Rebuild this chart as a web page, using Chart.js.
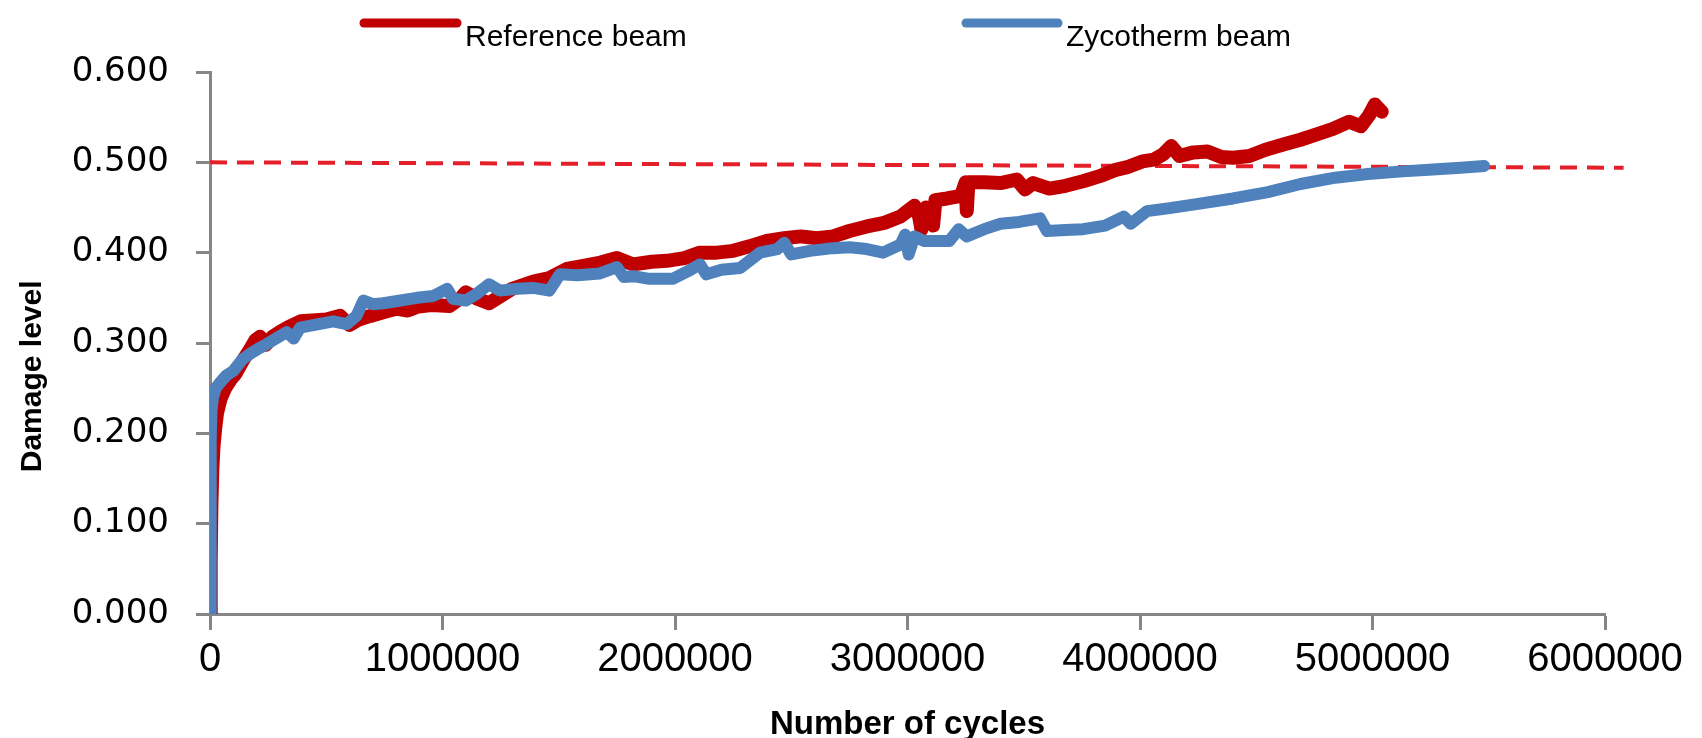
<!DOCTYPE html>
<html>
<head>
<meta charset="utf-8">
<title>Damage level vs number of cycles</title>
<script src="https://cdn.jsdelivr.net/npm/chart.js@4.4.1/dist/chart.umd.min.js"></script>
<style>
  html, body { margin: 0; padding: 0; background: #fff; }
  #wrap { width: 1702px; height: 738px; position: relative; }
</style>
</head>
<body>
<div id="wrap"><canvas id="chart"></canvas></div>
<script>
// reference beam
const refCycles = [0, 3000, 6000, 10000, 15000, 22000, 30000, 45000, 65000, 90000, 110000, 140000, 170000, 195000, 215000, 240000, 270000, 300000, 340000, 390000, 440000, 500000, 560000, 600000, 640000, 690000, 745000, 800000, 850000, 890000, 950000, 1030000, 1080000, 1100000, 1150000, 1200000, 1250000, 1300000, 1390000, 1460000, 1535000, 1600000, 1680000, 1750000, 1820000, 1900000, 1965000, 2040000, 2107000, 2180000, 2250000, 2320000, 2395000, 2470000, 2540000, 2610000, 2680000, 2750000, 2825000, 2900000, 2970000, 3000000, 3030000, 3050000, 3060000, 3080000, 3110000, 3120000, 3170000, 3230000, 3250000, 3255000, 3262000, 3330000, 3400000, 3470000, 3505000, 3540000, 3610000, 3680000, 3755000, 3830000, 3900000, 3950000, 4010000, 4060000, 4100000, 4135000, 4170000, 4230000, 4290000, 4350000, 4400000, 4470000, 4540000, 4620000, 4690000, 4760000, 4830000, 4900000, 4950000, 4985000, 5010000, 5040000];
const refDamage = [0, 0.06, 0.12, 0.16, 0.185, 0.205, 0.222, 0.238, 0.25, 0.26, 0.266, 0.28, 0.292, 0.303, 0.307, 0.298, 0.307, 0.312, 0.318, 0.324, 0.325, 0.326, 0.33, 0.32, 0.326, 0.33, 0.334, 0.338, 0.336, 0.34, 0.342, 0.341, 0.35, 0.356, 0.349, 0.344, 0.352, 0.36, 0.368, 0.372, 0.382, 0.385, 0.389, 0.394, 0.387, 0.39, 0.391, 0.394, 0.4, 0.4, 0.402, 0.407, 0.413, 0.416, 0.418, 0.416, 0.418, 0.424, 0.429, 0.433, 0.44, 0.446, 0.452, 0.44, 0.426, 0.45, 0.43, 0.458, 0.46, 0.463, 0.478, 0.446, 0.478, 0.478, 0.477, 0.481, 0.47, 0.477, 0.471, 0.474, 0.479, 0.485, 0.492, 0.495, 0.501, 0.503, 0.509, 0.518, 0.507, 0.511, 0.512, 0.506, 0.505, 0.507, 0.514, 0.52, 0.525, 0.531, 0.537, 0.545, 0.54, 0.552, 0.564, 0.556];

// zycotherm beam
const zycoCycles = [0, 2000, 4000, 6000, 13000, 25000, 43000, 70000, 100000, 140000, 172000, 210000, 245000, 290000, 330000, 360000, 387000, 450000, 530000, 588000, 630000, 660000, 700000, 745000, 820000, 890000, 960000, 1020000, 1045000, 1100000, 1150000, 1200000, 1247000, 1320000, 1390000, 1460000, 1505000, 1580000, 1677000, 1750000, 1780000, 1820000, 1890000, 1990000, 2060000, 2107000, 2135000, 2200000, 2280000, 2365000, 2440000, 2470000, 2500000, 2580000, 2680000, 2750000, 2825000, 2895000, 2970000, 2990000, 3005000, 3030000, 3070000, 3180000, 3220000, 3255000, 3330000, 3400000, 3480000, 3570000, 3600000, 3680000, 3755000, 3850000, 3930000, 3960000, 4030000, 4120000, 4250000, 4400000, 4550000, 4690000, 4840000, 4980000, 5130000, 5260000, 5380000, 5480000];
const zycoDamage = [0, 0.1, 0.19, 0.225, 0.24, 0.25, 0.256, 0.264, 0.269, 0.282, 0.288, 0.294, 0.299, 0.306, 0.312, 0.305, 0.317, 0.32, 0.324, 0.321, 0.33, 0.347, 0.343, 0.344, 0.347, 0.35, 0.352, 0.36, 0.349, 0.347, 0.355, 0.365, 0.358, 0.36, 0.361, 0.358, 0.376, 0.375, 0.377, 0.384, 0.373, 0.374, 0.371, 0.371, 0.38, 0.387, 0.376, 0.381, 0.383, 0.4, 0.404, 0.411, 0.398, 0.402, 0.405, 0.406, 0.404, 0.4, 0.409, 0.42, 0.398, 0.418, 0.413, 0.413, 0.426, 0.418, 0.426, 0.432, 0.434, 0.438, 0.424, 0.425, 0.426, 0.43, 0.44, 0.432, 0.446, 0.449, 0.454, 0.46, 0.467, 0.476, 0.483, 0.487, 0.49, 0.492, 0.494, 0.496];

// dashed 0.5 limit line
const limitCycles = [0, 6080000];
const limitDamage = [0.5, 0.494];

const xMin = 0, xMax = 6000000, xStep = 1000000;
const yMin = 0, yMax = 0.6, yStep = 0.1;

function toPoints(xs, ys) {
  return xs.map((x, i) => ({ x: x, y: ys[i] }));
}

const AXIS_GREY = '#868686';
const NARROW = '"Liberation Sans Narrow", "Arial Narrow", "Liberation Sans", sans-serif';

// legend drawn by hand, the two entries sit far apart in the original
const legendPlugin = {
  id: 'spreadLegend',
  afterDraw(chart, args, opts) {
    const ctx = chart.ctx;
    opts.items.forEach(item => {
      const ds = chart.data.datasets[item.dataset];
      ctx.save();
      ctx.strokeStyle = ds.borderColor;
      ctx.lineWidth = 9;
      ctx.lineCap = 'round';
      ctx.beginPath();
      ctx.moveTo(item.x, item.y);
      ctx.lineTo(item.x + item.w, item.y);
      ctx.stroke();
      ctx.fillStyle = '#000';
      ctx.font = '30px "Liberation Sans", Arial, sans-serif';
      ctx.textBaseline = 'middle';
      ctx.fillText(ds.label, item.x + item.w + 8, item.y + 15);
      ctx.restore();
    });
  }
};

const data = {
  datasets: [{
    label: 'Reference beam',
    data: toPoints(refCycles, refDamage),
    borderColor: '#C00000',
    backgroundColor: '#C00000',
    borderWidth: 14,
    pointRadius: 0,
    borderCapStyle: 'round',
    borderJoinStyle: 'round',
    tension: 0,
    order: 2
  }, {
    label: 'Zycotherm beam',
    data: toPoints(zycoCycles, zycoDamage),
    borderColor: '#4F81BD',
    backgroundColor: '#4F81BD',
    borderWidth: 12,
    pointRadius: 0,
    borderCapStyle: 'round',
    borderJoinStyle: 'round',
    tension: 0,
    order: 1
  }, {
    label: 'Limit',
    data: toPoints(limitCycles, limitDamage),
    borderColor: '#E3202A',
    borderWidth: 4,
    borderDash: [17, 10],
    pointRadius: 0,
    clip: false,
    order: 3
  }]
};

const config = {
  type: 'line',
  data: data,
  options: {
    responsive: true,
    maintainAspectRatio: false,
    animation: false,
    events: [],
    layout: { padding: { top: 72, right: 97, left: 0, bottom: 0 } },
    plugins: {
      legend: { display: false },
      tooltip: { enabled: false },
      spreadLegend: {
        items: [
          { dataset: 0, x: 364, y: 23, w: 93 },
          { dataset: 1, x: 966, y: 23, w: 92 }
        ]
      }
    },
    scales: {
      x: {
        type: 'linear',
        min: xMin,
        max: xMax,
        afterFit(scale) { scale.height = 124; },
        border: { display: true, color: AXIS_GREY, width: 3 },
        grid: { drawOnChartArea: false, drawTicks: true, tickLength: 16, tickWidth: 3, tickColor: AXIS_GREY },
        ticks: {
          stepSize: xStep,
          color: '#000',
          padding: 6,
          maxRotation: 0,
          font: { family: '"Liberation Sans", Arial, sans-serif', size: 40 },
          callback: v => String(v)
        },
        title: {
          display: true,
          text: 'Number of cycles',
          color: '#000',
          padding: { top: 0, bottom: -3 },
          font: { family: NARROW, size: 33, weight: 'bold', lineHeight: 1 }
        }
      },
      y: {
        min: yMin,
        max: yMax,
        afterFit(scale) { scale.width = 210; },
        border: { display: true, color: AXIS_GREY, width: 3 },
        grid: { drawOnChartArea: false, drawTicks: true, tickLength: 14, tickWidth: 3, tickColor: AXIS_GREY },
        ticks: {
          stepSize: yStep,
          color: '#000',
          padding: 27,
          font: { family: '"DejaVu Sans", sans-serif', size: 34 },
          callback: v => v.toFixed(3)
        },
        title: {
          display: true,
          // trailing spaces push the rotated text down like the original
          text: 'Damage level        ',
          color: '#000',
          padding: { top: 15, bottom: 0 },
          font: { family: NARROW, size: 30, weight: 'bold', lineHeight: 1.2 }
        }
      }
    }
  },
  plugins: [legendPlugin]
};

var ctx = document.getElementById('chart');
var myChart = new Chart(ctx, config);
</script>
</body>
</html>
